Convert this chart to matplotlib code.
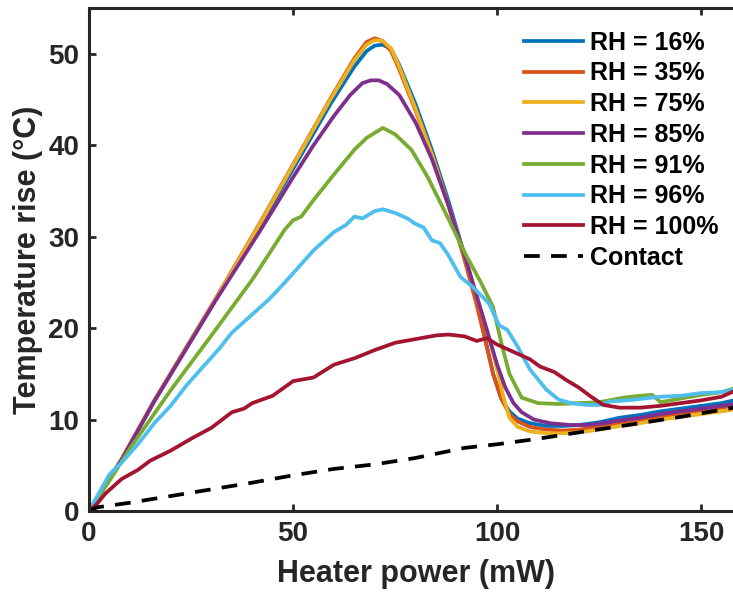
import numpy as np
import matplotlib
matplotlib.use("Agg")
import matplotlib.pyplot as plt

plt.rcParams['font.family'] = ['Liberation Sans', 'DejaVu Sans']
plt.rcParams['font.weight'] = 'bold'

# RH = 16%
x16 = [0, 8, 16, 31, 42, 50, 59, 65, 68, 70, 72, 74, 76, 80, 84, 88, 92, 95, 97, 99, 101, 103, 105, 108, 112, 116, 120, 125, 130, 135, 140, 145, 150, 155, 158]
y16 = [0, 5.6, 12, 23.1, 31.3, 37.4, 44.4, 48.6, 50.3, 50.9, 51.0, 50.5, 48.8, 44.5, 39.5, 34, 28, 23, 19, 15, 12.3, 10.9, 10.1, 9.6, 9.3, 9.3, 9.4, 9.7, 10.2, 10.5, 10.9, 11.2, 11.5, 11.8, 12.1]
# RH = 35%
x35 = [0, 8, 16, 31, 42, 50, 59, 65, 68, 70, 72, 74, 76, 80, 84, 88, 92, 95, 97, 99, 101, 103, 105, 108, 112, 116, 120, 125, 130, 135, 140, 145, 150, 155, 158]
y35 = [0, 5.7, 12.1, 23.2, 31.6, 37.9, 45.0, 49.5, 51.3, 51.7, 51.4, 50.3, 48.3, 43.8, 39, 33.5, 27.5, 22.5, 18.8, 15, 12.3, 10.6, 9.8, 9.2, 8.9, 8.8, 8.9, 9.2, 9.6, 9.9, 10.3, 10.7, 11.0, 11.3, 11.5]
# RH = 75%
x75 = [0, 8, 16, 31, 42, 50, 59, 65, 68, 70, 72, 74, 76, 80, 84, 88, 92, 95, 98, 100, 101.5, 103, 105, 108, 112, 116, 120, 125, 130, 135, 140, 145, 150, 155, 158]
y75 = [0, 5.6, 12, 23.1, 31.5, 37.8, 44.9, 49.3, 51.0, 51.5, 51.4, 50.6, 48.6, 44, 39, 33.5, 28, 23.5, 19, 15.5, 12.5, 10.2, 9.2, 8.7, 8.5, 8.5, 8.6, 8.9, 9.3, 9.6, 10.0, 10.3, 10.6, 10.9, 11.1]
# RH = 85%
x85 = [0, 8, 16, 31, 42, 50, 55, 60, 64, 67, 69, 71, 73, 76, 80, 84, 88, 92, 95, 98, 100, 102, 104, 106, 109, 113, 118, 122, 126, 130, 135, 140, 145, 150, 155, 158]
y85 = [0, 5.6, 12, 23, 30.7, 36.5, 40, 43.2, 45.5, 46.8, 47.1, 47.1, 46.7, 45.5, 42.5, 38.5, 33.5, 28, 23.5, 19, 16, 13.5, 11.8, 10.8, 10.0, 9.6, 9.4, 9.4, 9.6, 9.9, 10.2, 10.6, 10.9, 11.2, 11.5, 11.7]
# RH = 91%
x91 = [0, 5, 10, 20, 30, 40, 48, 50, 52, 55, 60, 65, 68, 72, 75, 79, 83, 88, 92, 96, 99, 101, 103, 106, 110, 115, 120, 125, 131, 135, 138, 140, 145, 150, 155, 158]
y91 = [0, 3.3, 6.8, 13.2, 19.2, 25.3, 30.8, 31.8, 32.2, 34, 36.8, 39.5, 40.8, 41.9, 41.2, 39.5, 36.5, 32, 28.3, 25, 22.3, 18.4, 15, 12.4, 11.8, 11.7, 11.8, 11.9, 12.4, 12.6, 12.7, 11.9, 12.3, 12.7, 13.0, 13.4]
# RH = 96%
x96 = [0, 2.5, 5, 8, 12, 16, 20, 24, 28, 32, 35, 40, 44, 48, 50, 55, 60, 63, 65, 67, 70, 72, 75, 78, 80, 82, 84, 86, 88, 91, 94, 98, 100.5, 102.5, 105, 108, 112, 115, 118, 122, 125, 128, 132, 136, 140, 145, 150, 155, 158]
y96 = [0, 2, 4, 5.3, 7.3, 9.6, 11.5, 13.8, 15.8, 17.8, 19.5, 21.5, 23.1, 25, 26, 28.5, 30.5, 31.3, 32.2, 32.0, 32.8, 33, 32.6, 32, 31.4, 31, 29.6, 29.3, 28, 25.6, 24.5, 22.7, 20.3, 19.8, 18, 15.5, 13.3, 12.2, 11.8, 11.6, 11.6, 12.0, 12.1, 12.3, 12.5, 12.6, 12.9, 13.0, 13.3]
# RH = 100%
x100 = [0, 2, 4, 6, 8, 10, 12, 15, 20, 25, 30, 35, 38, 40, 45, 50, 55, 60, 65, 70, 75, 80, 85, 88, 92, 95, 97.5, 100, 102, 105, 108, 110.5, 114, 117, 120, 123, 126, 130, 135, 140, 145, 150, 155, 158]
y100 = [0, 0.8, 1.9, 2.7, 3.5, 4.0, 4.5, 5.5, 6.6, 7.9, 9.1, 10.8, 11.2, 11.8, 12.6, 14.2, 14.6, 16, 16.7, 17.6, 18.4, 18.8, 19.2, 19.3, 19.1, 18.6, 18.9, 18.2, 17.8, 17.2, 16.6, 15.8, 15.2, 14.3, 13.5, 12.5, 11.6, 11.3, 11.3, 11.5, 11.8, 12.1, 12.5, 13.1]
# Contact
xc = [0, 2, 10, 25, 40, 50, 60, 70, 80, 92, 100, 110, 120, 132, 145, 158]
yc = [0, 0.4, 0.9, 2.0, 3.1, 3.9, 4.6, 5.1, 5.8, 6.9, 7.3, 7.9, 8.6, 9.4, 10.3, 11.3]

labels = ['RH = 16%', 'RH = 35%', 'RH = 75%', 'RH = 85%', 'RH = 91%', 'RH = 96%', 'RH = 100%']
colors = ['#0072BD', '#D95319', '#EDB120', '#7E2F8E', '#77AC30', '#4DBEEE', '#A2142F']
series = [(x16, y16), (x35, y35), (x75, y75), (x85, y85), (x91, y91), (x96, y96), (x100, y100)]

fig = plt.figure(figsize=(7.33, 5.93), dpi=100)
ax = fig.add_axes([0.1214, 0.1383, 0.891, 0.848])

for (xs, ys), lab, c in zip(series, labels, colors):
    ax.plot(xs, ys, color=c, lw=2.7, label=lab)
ax.plot(xc, yc, 'k--', lw=2.7, dashes=(4.2, 3), label='Contact')

ax.set_xlim(0, 160)
ax.set_ylim(0, 55)
ax.set_xticks([0, 50, 100, 150])
ax.set_yticks([0, 10, 20, 30, 40, 50])
ax.tick_params(direction='in', length=5, width=2, top=True, right=True,
               labelsize=20, colors='#262626', pad=7)
for s in ax.spines.values():
    s.set_linewidth(2.2)
    s.set_color('#262626')

ax.set_xlabel('Heater power (mW)', fontsize=22, fontweight='bold', color='#262626', labelpad=9)
ax.set_ylabel('Temperature rise (°C)', fontsize=22, fontweight='bold', color='#262626', labelpad=4)

ax.legend(loc='upper left', bbox_to_anchor=(0.651, 0.975), frameon=False, fontsize=18,
          handlelength=2.35, handletextpad=0.3, labelspacing=0.27, borderaxespad=0.0)

plt.savefig("out.png", dpi=100)
